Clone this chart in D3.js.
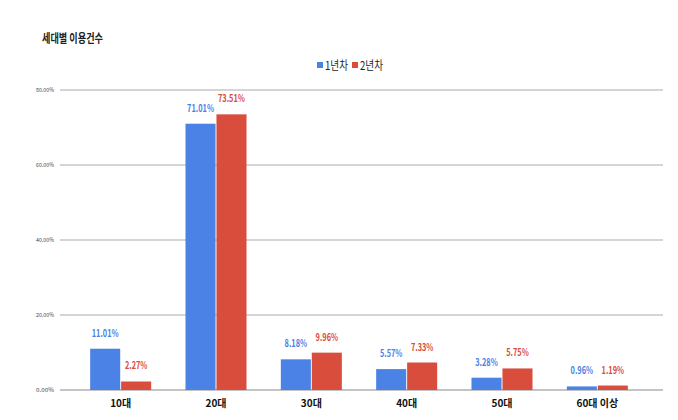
<!DOCTYPE html>
<html>
<head>
<meta charset="utf-8">
<script src="https://cdn.jsdelivr.net/npm/d3@7"></script>
<style>
  body { margin: 0; background: #fff; }
  text { font-family: "Noto Sans CJK KR", "Noto Sans", sans-serif; }
</style>
</head>
<body>
<script>
// data
const categories = ['10대', '20대', '30대', '40대', '50대', '60대 이상'];
const series = ['1년차', '2년차'];
const year1 = [11.01, 71.01, 8.18, 5.57, 3.28, 0.96];
const year2 = [2.27, 73.51, 9.96, 7.33, 5.75, 1.19];
const yTicks = [0, 20, 40, 60, 80];
const colors = ['#4a82e6', '#d94d3d'];

const width = 678, height = 420;
const svg = d3.select(document.body).append('svg')
  .attr('width', width)
  .attr('height', height);

let x = d3.scaleBand()
  .domain(categories)
  .range([73, 645])
  .paddingInner(0.36)
  .paddingOuter(0.18);

let xInner = d3.scaleBand()
  .domain(series)
  .range([0, x.bandwidth()])
  .paddingInner(0.03);

let y = d3.scaleLinear()
  .domain([0, 80])
  .range([390, 90]);

// title
svg.append('text')
  .attr('x', 42).attr('y', 43)
  .attr('font-size', 12).attr('font-weight', 'bold')
  .attr('fill', '#222')
  .attr('textLength', 61).attr('lengthAdjust', 'spacingAndGlyphs')
  .text('세대별 이용건수');

// legend
let legend = svg.append('g').attr('font-size', 12).attr('fill', '#222');
let lx = [317, 352];
series.forEach((s, i) => {
  legend.append('rect')
    .attr('x', lx[i]).attr('y', 62)
    .attr('width', 6).attr('height', 6)
    .attr('fill', colors[i]);
  legend.append('text')
    .attr('x', lx[i] + 8).attr('y', 69.5)
    .attr('fill', '#222')
    .attr('textLength', 23).attr('lengthAdjust', 'spacingAndGlyphs')
    .text(s);
});

// gridlines + y labels
let grid = svg.append('g');
grid.selectAll('line')
  .data(yTicks)
  .join('line')
    .attr('x1', 60).attr('x2', 663)
    .attr('y1', d => y(d)).attr('y2', d => y(d))
    .attr('stroke', d => d === 0 ? '#888' : '#aaa')
    .attr('stroke-width', 1);

grid.selectAll('text')
  .data(yTicks)
  .join('text')
    .attr('x', 54)
    .attr('y', d => y(d))
    .attr('dy', '0.35em')
    .attr('text-anchor', 'end')
    .attr('font-size', 5.5)
    .attr('fill', '#444')
    .attr('textLength', 18).attr('lengthAdjust', 'spacingAndGlyphs')
    .text(d => d.toFixed(2) + '%');

// bars
let rows = categories.map((c, i) => ({ cat: c, vals: [year1[i], year2[i]] }));
let groups = svg.append('g').selectAll('g')
  .data(rows)
  .join('g')
    .attr('transform', d => `translate(${x(d.cat)},0)`);

groups.selectAll('rect')
  .data(d => d.vals.map((v, i) => ({ s: series[i], v, i })))
  .join('rect')
    .attr('x', d => xInner(d.s))
    .attr('y', d => y(d.v))
    .attr('width', xInner.bandwidth())
    .attr('height', d => y(0) - y(d.v))
    .attr('fill', d => colors[d.i]);

groups.selectAll('text')
  .data(d => d.vals.map((v, i) => ({ s: series[i], v, i })))
  .join('text')
    .attr('x', d => xInner(d.s) + xInner.bandwidth() / 2)
    .attr('y', d => y(d.v) - 12)
    .attr('text-anchor', 'middle')
    .attr('font-size', 10.5)
    .attr('font-weight', 'bold')
    .attr('fill', d => colors[d.i])
    .attr('textLength', d => (d.v.toFixed(2) + '%').length * 4.5)
    .attr('lengthAdjust', 'spacingAndGlyphs')
    .text(d => d.v.toFixed(2) + '%');

// category labels
svg.append('g').selectAll('text')
  .data(categories)
  .join('text')
    .attr('x', d => x(d) + x.bandwidth() / 2)
    .attr('y', 407)
    .attr('text-anchor', 'middle')
    .attr('font-size', 10)
    .attr('font-weight', 'bold')
    .attr('fill', '#111')
    .text(d => d);
</script>
</body>
</html>
